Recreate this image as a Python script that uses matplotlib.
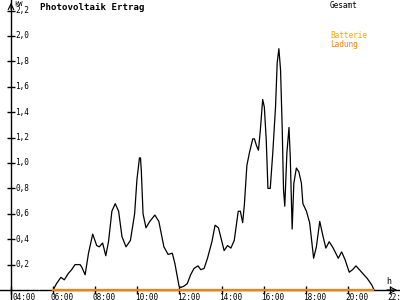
import matplotlib
matplotlib.use("Agg")
import matplotlib.pyplot as plt

# Stunden (dezimal) und Leistung in kW
zeit = [6.00, 6.16, 6.37, 6.53, 6.72, 6.88, 7.04, 7.28, 7.36, 7.52,
        7.68, 7.88, 8.07, 8.19, 8.35, 8.50, 8.63, 8.79, 8.95, 9.11,
        9.27, 9.46, 9.67, 9.87, 9.98, 10.10, 10.15, 10.19, 10.27, 10.41,
        10.59, 10.83, 11.02, 11.26, 11.46, 11.66, 11.78, 11.98, 12.06, 12.21,
        12.37, 12.53, 12.69, 12.88, 13.01, 13.17, 13.33, 13.54, 13.69, 13.85,
        14.12, 14.28, 14.44, 14.60, 14.79, 14.89, 15.00, 15.08, 15.20, 15.32,
        15.48, 15.56, 15.65, 15.75, 15.84, 15.95, 16.03, 16.12, 16.20, 16.31,
        16.43, 16.56, 16.64, 16.72, 16.80, 16.88, 16.94, 17.00, 17.10, 17.20,
        17.26, 17.35, 17.43, 17.55, 17.67, 17.79, 17.86, 18.03, 18.18, 18.37,
        18.50, 18.66, 18.82, 18.95, 19.11, 19.30, 19.54, 19.70, 19.86, 20.06,
        20.22, 20.38, 20.65, 20.92, 21.13, 21.24]
gesamt = [0.00, 0.05, 0.10, 0.08, 0.13, 0.16, 0.20, 0.20, 0.18, 0.12,
          0.29, 0.44, 0.35, 0.34, 0.37, 0.27, 0.38, 0.62, 0.68, 0.62,
          0.42, 0.34, 0.39, 0.60, 0.87, 1.04, 1.04, 0.93, 0.60, 0.49,
          0.54, 0.59, 0.54, 0.34, 0.28, 0.29, 0.21, 0.03, 0.02, 0.03,
          0.05, 0.12, 0.17, 0.19, 0.16, 0.17, 0.25, 0.38, 0.51, 0.49,
          0.31, 0.35, 0.33, 0.39, 0.62, 0.62, 0.53, 0.67, 0.98, 1.08,
          1.19, 1.19, 1.14, 1.10, 1.26, 1.50, 1.44, 1.18, 0.80, 0.80,
          1.08, 1.44, 1.79, 1.90, 1.73, 1.26, 0.79, 0.66, 1.08, 1.28,
          1.05, 0.48, 0.84, 0.96, 0.93, 0.84, 0.68, 0.62, 0.53, 0.25,
          0.34, 0.54, 0.42, 0.33, 0.38, 0.33, 0.25, 0.30, 0.24, 0.14,
          0.16, 0.19, 0.14, 0.09, 0.04, 0.00]
ladung_zeit = [6.0, 21.2]
ladung = [0.0, 0.0]

x_ticks = [4, 6, 8, 10, 12, 14, 16, 18, 20, 22]
x_labels = ["04:00", "06:00", "08:00", "10:00", "12:00", "14:00",
            "16:00", "18:00", "20:00", "22:00"]
y_ticks = [0.2, 0.4, 0.6, 0.8, 1.0, 1.2, 1.4, 1.6, 1.8, 2.0, 2.2]
y_labels = ["0,2", "0,4", "0,6", "0,8", "1,0", "1,2", "1,4", "1,6",
            "1,8", "2,0", "2,2"]

mono = "DejaVu Sans Mono"
c_batt = "#FFA500"
c_lad = "#FF7F00"

fig = plt.figure(figsize=(4, 3), dpi=100)
ax = fig.add_axes([0, 0, 1, 1])

# Pixelmassstab: 04:00 bei x=11, 21.06 px/h; 0 kW bei y=290, 127 px/kW
ax.set_xlim(4 - 11 / 21.06, 4 + 389 / 21.06)
ax.set_ylim(-10 / 127, 290 / 127)

ax.plot(zeit, gesamt, color="black", lw=0.9, zorder=3)
ax.plot(ladung_zeit, ladung, color=c_lad, lw=1.6, zorder=4)

for s in ["top", "right"]:
    ax.spines[s].set_visible(False)
ax.spines["left"].set_position(("data", 4))
ax.spines["bottom"].set_position(("data", 0))
for s in ["left", "bottom"]:
    ax.spines[s].set_linewidth(1.0)

ax.set_xticks(x_ticks)
ax.set_yticks(y_ticks)
ax.set_xticklabels([])
ax.set_yticklabels([])
ax.tick_params(direction="inout", length=6, width=1.0)

# Beschriftungen der Achsen
for t, lab in zip(x_ticks, x_labels):
    dx = 0.05 if t == 4 else -0.13
    ax.text(t + dx, -0.02, lab, fontsize=5.6, family=mono, ha="left",
            va="top", clip_on=False)
for v, lab in zip(y_ticks, y_labels):
    ax.text(4.2, v, lab, fontsize=5.6, family=mono, ha="left",
            va="center")

# Pfeile an den Achsenenden
ax.annotate("", xy=(1.0, 10 / 300), xycoords="axes fraction",
            xytext=(0.96, 10 / 300),
            arrowprops=dict(arrowstyle="->", lw=0.8, color="black"))
ax.annotate("", xy=(11 / 400, 1.0), xycoords="axes fraction",
            xytext=(11 / 400, 0.96),
            arrowprops=dict(arrowstyle="->", lw=0.8, color="black"))

fig.text(14 / 400, 1 - 4 / 300, "kW", fontsize=5, family=mono,
         ha="left", va="center")
fig.text(386 / 400, 1 - 282 / 300, "h", fontsize=6, family=mono,
         ha="left", va="center")
fig.text(40 / 400, 1 - 8 / 300, "Photovoltaik Ertrag", fontsize=6.6,
         family=mono, weight="bold", ha="left", va="center")
fig.text(330 / 400, 1 - 5 / 300, "Gesamt", fontsize=5.6, family=mono,
         ha="left", va="center")
fig.text(330 / 400, 1 - 36 / 300, "Batterie", fontsize=5.6, family=mono,
         color=c_batt, ha="left", va="center")
fig.text(330 / 400, 1 - 44 / 300, "Ladung", fontsize=5.6, family=mono,
         color=c_lad, ha="left", va="center")

fig.savefig("out.png", dpi=100)
